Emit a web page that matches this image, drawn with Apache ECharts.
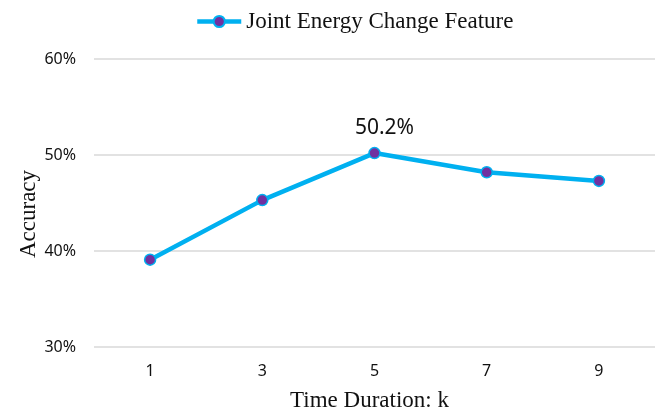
<!DOCTYPE html>
<html><head><meta charset="utf-8">
<script src="https://cdn.jsdelivr.net/npm/echarts@6/dist/echarts.min.js"></script>
<style>html,body{margin:0;padding:0;background:#fff}#c{width:667px;height:412px}</style>
</head><body><div id="c"></div>
<script>
var categories = ['1','3','5','7','9'];
var accuracy = [39.1, 45.3, 50.2, 48.2, 47.3];
var seriesName = 'Joint Energy Change Feature';
var chart = echarts.init(document.getElementById('c'), null, {renderer:'canvas'});
chart.setOption({
  animation:false,
  legend:{top:5,left:190,itemWidth:44,itemHeight:14,itemGap:4,
    lineStyle:{width:4.5},
    textStyle:{fontFamily:'Liberation Serif',fontSize:23,color:'#111'},
    data:[seriesName]},
  grid:{left:94,right:12,top:59,bottom:65,outerBoundsMode:'none'},
  xAxis:{type:'category',data:categories,boundaryGap:true,
    name:'Time Duration: k',nameLocation:'middle',nameGap:42,nameMoveOverlap:false,
    nameTextStyle:{fontFamily:'Liberation Serif',fontSize:23,color:'#111',padding:[0,10,0,0]},
    axisLine:{show:false},axisTick:{show:false},
    axisLabel:{fontFamily:'Noto Sans',fontSize:16,color:'#111',margin:16}},
  yAxis:{type:'value',min:30,max:60,interval:10,
    name:'Accuracy',nameLocation:'middle',nameGap:54,nameMoveOverlap:false,
    nameTextStyle:{fontFamily:'Liberation Serif',fontSize:23,color:'#111',padding:[0,22,0,0]},
    axisLabel:{formatter:'{value}%',fontFamily:'Noto Sans',fontSize:16,color:'#111',margin:18},
    splitLine:{lineStyle:{color:'#d9d9d9',width:1.5}},axisLine:{show:false},axisTick:{show:false}},
  series:[{name:seriesName,type:'line',data:accuracy,
    lineStyle:{color:'#00B0F0',width:4.5},
    itemStyle:{color:'#7030A0',borderColor:'#00B0F0',borderWidth:1.5},
    symbol:'circle',symbolSize:11,
    label:{show:true,position:'top',distance:8,offset:[10,0],fontFamily:'Noto Sans',fontSize:21,color:'#111',
      formatter:function(p){return p.dataIndex===2?p.value.toFixed(1)+'%':'';}}}]
});
</script></body></html>
